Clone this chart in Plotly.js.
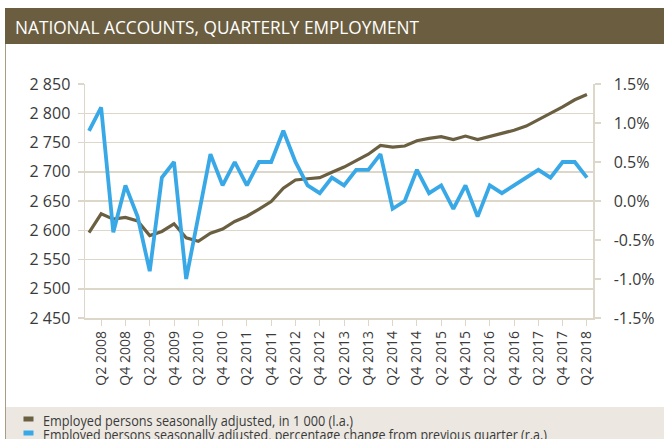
<!DOCTYPE html>
<html>
<head>
<meta charset="utf-8">
<script src="https://cdn.plot.ly/plotly-3.0.1.min.js"></script>
<style>html,body{margin:0;padding:0;background:#fff;}#chart{width:664px;height:439px;}</style>
</head>
<body>
<div id="chart"></div>
<script>
var quarters = ["Q1 2008","Q2 2008","Q3 2008","Q4 2008","Q1 2009","Q2 2009","Q3 2009","Q4 2009","Q1 2010","Q2 2010","Q3 2010","Q4 2010","Q1 2011","Q2 2011","Q3 2011","Q4 2011","Q1 2012","Q2 2012","Q3 2012","Q4 2012","Q1 2013","Q2 2013","Q3 2013","Q4 2013","Q1 2014","Q2 2014","Q3 2014","Q4 2014","Q1 2015","Q2 2015","Q3 2015","Q4 2015","Q1 2016","Q2 2016","Q3 2016","Q4 2016","Q1 2017","Q2 2017","Q3 2017","Q4 2017","Q1 2018","Q2 2018"];
var employed = [2596,2628,2619,2622,2616,2591,2598,2611,2587,2581,2595,2602,2615,2624,2636,2649,2672,2686,2688,2690,2699,2708,2719,2730,2745,2742,2744,2753,2757,2760,2755,2761,2755,2760,2766,2771,2778,2789,2799,2811,2823,2832];
var pctChange = [0.9,1.2,-0.4,0.2,-0.2,-0.9,0.3,0.5,-1.0,-0.2,0.6,0.2,0.5,0.2,0.5,0.5,0.9,0.5,0.2,0.1,0.3,0.2,0.4,0.4,0.6,-0.1,0.0,0.4,0.1,0.2,-0.1,0.2,-0.2,0.2,0.1,0.2,0.3,0.4,0.3,0.5,0.5,0.3];
var xTickVals = ["Q2 2008","Q4 2008","Q2 2009","Q4 2009","Q2 2010","Q4 2010","Q2 2011","Q4 2011","Q2 2012","Q4 2012","Q2 2013","Q4 2013","Q2 2014","Q4 2014","Q2 2015","Q4 2015","Q2 2016","Q4 2016","Q2 2017","Q4 2017","Q2 2018"];
var leftTickVals = [2450,2500,2550,2600,2650,2700,2750,2800,2850];
var leftTickText = ["2 450","2 500","2 550","2 600","2 650","2 700","2 750","2 800","2 850"];
var rightTickVals = [-1.5,-1.0,-0.5,0.0,0.5,1.0,1.5];
var rightTickText = ["-1.5%","-1.0%","-0.5%","0.0%","0.5%","1.0%","1.5%"];
var chartTitle = "NATIONAL ACCOUNTS, QUARTERLY EMPLOYMENT";
var seriesNames = ["Employed persons seasonally adjusted, in 1 000 (l.a.)","Employed persons seasonally adjusted, percentage change from previous quarter (r.a.)"];

var brown = "#6b5f42", blue = "#38a9e6", grid = "#ddd7ca", txt = "#3a3a3a";
var FONT = "Open Sans, sans-serif";

var traces = [
  {x: quarters, y: employed, type: "scatter", mode: "lines", name: seriesNames[0], yaxis: "y",
   line: {color: brown, width: 3.2}, hoverinfo: "skip"},
  {x: quarters, y: pctChange, type: "scatter", mode: "lines", name: seriesNames[1], yaxis: "y2",
   line: {color: blue, width: 3.8}, hoverinfo: "skip"}
];

function px2x(p){ return (p-85)/508; }
function py2y(p){ return (318-p)/234; }

var layout = {
  width: 664, height: 439,
  margin: {l: 85, r: 71, t: 84, b: 121, pad: 0},
  paper_bgcolor: "#ffffff", plot_bgcolor: "#ffffff",
  showlegend: false,
  font: {family: FONT, color: txt},
  xaxis: {
    type: "category", range: [-0.33, 41.5],
    tickmode: "array", tickvals: xTickVals, ticktext: xTickVals,
    tickangle: -90, tickfont: {size: 14, color: txt, family: FONT},
    ticks: "outside", ticklen: 6, tickcolor: grid, tickwidth: 1,
    showgrid: false, showline: true, linecolor: grid, linewidth: 1.5,
    zeroline: false, fixedrange: true
  },
  yaxis: {
    range: [2450, 2850], tickmode: "array", tickvals: leftTickVals, ticktext: leftTickText,
    tickfont: {size: 16, color: txt, family: FONT},
    ticks: "outside", ticklen: 6, tickcolor: grid, tickwidth: 1.5, ticklabelstandoff: 4,
    showgrid: true, gridcolor: grid, gridwidth: 1.5,
    showline: true, linecolor: grid, linewidth: 1.5, zeroline: false, fixedrange: true
  },
  yaxis2: {
    range: [-1.5, 1.5], overlaying: "y", side: "right",
    tickmode: "array", tickvals: rightTickVals, ticktext: rightTickText,
    tickfont: {size: 16, color: txt, family: FONT},
    ticks: "outside", ticklen: 6, tickcolor: grid, tickwidth: 1.5, ticklabelstandoff: 10,
    showgrid: false, showline: true, linecolor: grid, linewidth: 1.5, zeroline: false, fixedrange: true
  },
  shapes: [
    {type: "rect", xref: "paper", yref: "paper", x0: px2x(5), x1: px2x(664), y0: py2y(44), y1: py2y(8),
     fillcolor: "#6b5e40", line: {width: 0}, layer: "below"},
    {type: "line", xref: "paper", yref: "paper", x0: px2x(5.5), x1: px2x(5.5), y0: py2y(439), y1: py2y(44),
     line: {color: "#a89d84", width: 1}},
    {type: "rect", xref: "paper", yref: "paper", x0: px2x(6), x1: px2x(664), y0: py2y(439), y1: py2y(407),
     fillcolor: "#ece8e1", line: {width: 0}, layer: "below"},
    {type: "line", xref: "paper", yref: "paper", x0: px2x(23.5), x1: px2x(33.5), y0: py2y(419), y1: py2y(419),
     line: {color: brown, width: 5}},
    {type: "line", xref: "paper", yref: "paper", x0: px2x(23.5), x1: px2x(33.5), y0: py2y(433), y1: py2y(433),
     line: {color: blue, width: 5}}
  ],
  annotations: [
    {text: chartTitle, xref: "paper", yref: "paper", x: px2x(13), y: py2y(26.5), xanchor: "left", yanchor: "middle", align: "left",
     showarrow: false, font: {family: FONT, size: 17.5, color: "#ffffff"}},
    {text: seriesNames[0], xref: "paper", yref: "paper", x: px2x(41), y: py2y(420.5), xanchor: "left", yanchor: "middle", align: "left",
     showarrow: false, font: {family: FONT, size: 14, color: txt}},
    {text: seriesNames[1], xref: "paper", yref: "paper", x: px2x(41), y: py2y(434), xanchor: "left", yanchor: "middle", align: "left",
     showarrow: false, font: {family: FONT, size: 14, color: txt}}
  ]
};

var textWidths = [404, 310, 504];

Plotly.newPlot("chart", traces, layout, {staticPlot: true, displayModeBar: false}).then(function(gd){
  var nodes = gd.querySelectorAll("g.annotation text.annotation-text");
  for (var i = 0; i < nodes.length && i < textWidths.length; i++) {
    nodes[i].setAttribute("textLength", textWidths[i]);
    nodes[i].setAttribute("lengthAdjust", "spacingAndGlyphs");
  }
});
</script>
</body>
</html>
